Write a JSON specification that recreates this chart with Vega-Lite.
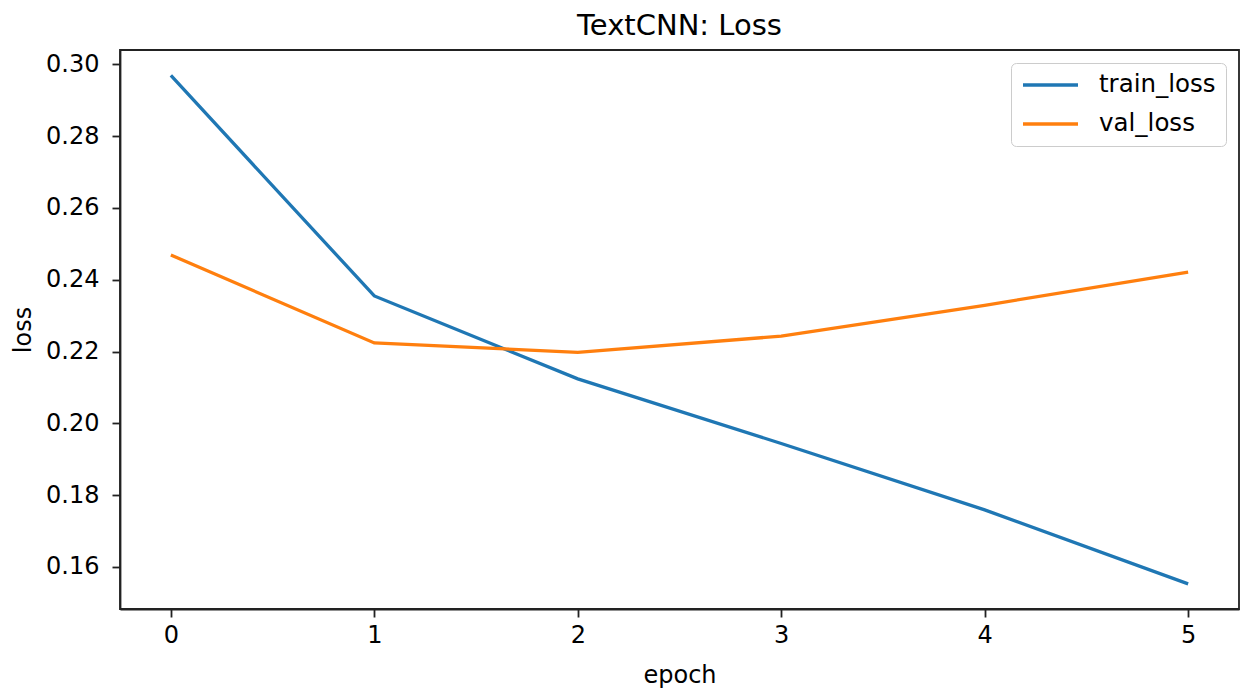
{
  "$schema": "https://vega.github.io/schema/vega-lite/v6.json",
  "autosize": "none",
  "width": 1119,
  "height": 559,
  "padding": {"left": 120, "top": 50, "right": 7, "bottom": 80},
  "background": "white",
  "title": {"text": "TextCNN: Loss", "font": "DejaVu Sans", "fontSize": 29, "fontWeight": "normal", "color": "#000", "offset": 9, "anchor": "middle"},
  "config": {
    "font": "DejaVu Sans",
    "view": {"stroke": "#222", "strokeWidth": 1.8},
    "axis": {"grid": false, "domainColor": "#222", "domainWidth": 1.8, "tickColor": "#222", "tickWidth": 1.8, "tickSize": 8, "labelFont": "DejaVu Sans", "labelFontSize": 24, "labelColor": "#000", "titleFont": "DejaVu Sans", "titleFontSize": 24, "titleFontWeight": "normal", "titleColor": "#000"}
  },
  "data": {"values": [
    {"epoch": 0, "loss": 0.2969, "series": "train_loss"},
    {"epoch": 1, "loss": 0.2355, "series": "train_loss"},
    {"epoch": 2, "loss": 0.2124, "series": "train_loss"},
    {"epoch": 3, "loss": 0.1944, "series": "train_loss"},
    {"epoch": 4, "loss": 0.1759, "series": "train_loss"},
    {"epoch": 5, "loss": 0.1553, "series": "train_loss"},
    {"epoch": 0, "loss": 0.2469, "series": "val_loss"},
    {"epoch": 1, "loss": 0.2224, "series": "val_loss"},
    {"epoch": 2, "loss": 0.2198, "series": "val_loss"},
    {"epoch": 3, "loss": 0.2243, "series": "val_loss"},
    {"epoch": 4, "loss": 0.2329, "series": "val_loss"},
    {"epoch": 5, "loss": 0.2421, "series": "val_loss"}
  ]},
  "mark": {"type": "line", "strokeWidth": 3.3, "clip": true},
  "encoding": {
    "x": {"field": "epoch", "type": "quantitative", "scale": {"domain": [-0.25, 5.25], "nice": false, "zero": false},
          "axis": {"values": [0, 1, 2, 3, 4, 5], "format": "d", "title": "epoch", "labelPadding": 6, "titlePadding": 16}},
    "y": {"field": "loss", "type": "quantitative", "scale": {"domain": [0.1483, 0.304], "nice": false, "zero": false},
          "axis": {"values": [0.16, 0.18, 0.2, 0.22, 0.24, 0.26, 0.28, 0.3], "format": ".2f", "title": "loss", "labelPadding": 13, "titlePadding": 10}},
    "color": {"field": "series", "type": "nominal", "sort": ["train_loss", "val_loss"],
              "scale": {"domain": ["train_loss", "val_loss"], "range": ["#1f77b4", "#ff7f0e"]},
              "legend": {"title": null, "orient": "top-right", "offset": 13, "padding": 10, "fillColor": "white", "strokeColor": "#cccccc", "cornerRadius": 5,
                         "symbolType": "stroke", "symbolSize": 3025, "symbolStrokeWidth": 3.3, "clipHeight": 24, "labelFontSize": 24.5, "labelFont": "DejaVu Sans", "labelColor": "#000", "labelOffset": 19, "rowPadding": 14}}
  }
}
